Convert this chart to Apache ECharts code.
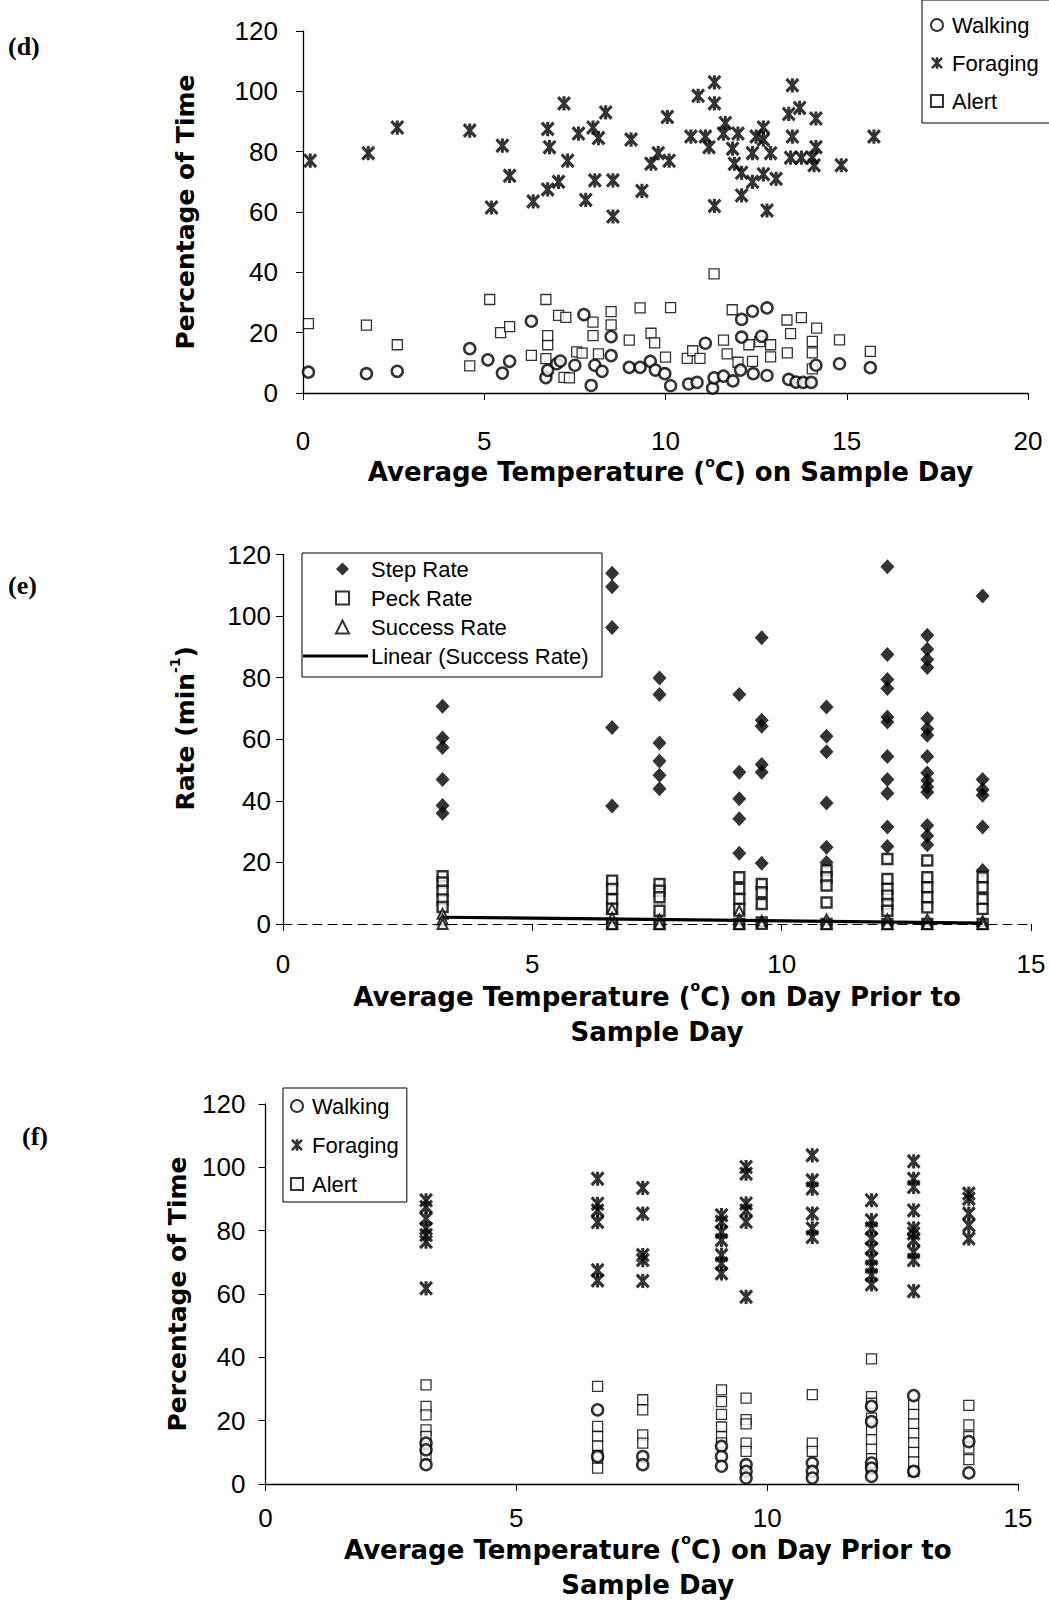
<!DOCTYPE html>
<html><head><meta charset="utf-8">
<script src="https://cdn.jsdelivr.net/npm/echarts@6/dist/echarts.min.js"></script>
<style>html,body{margin:0;padding:0;background:#fff}#c{width:1049px;height:1601px}</style>
</head><body><div id="c"></div>
<script>
// ---------- tick values ----------
const pctTicks = [0, 20, 40, 60, 80, 100, 120];
const rateTicks = [0, 20, 40, 60, 80, 100, 120];
const tempTicksD = [0, 5, 10, 15, 20];
const tempTicksEF = [0, 5, 10, 15];

// ---------- panel (d): temperature on sample day ----------
const dWalking = [[0.15,6.9],[1.75,6.4],[2.6,7.2],[4.6,14.7],[5.1,11],[5.5,6.6],[5.7,10.5],[6.3,23.8],[6.7,5.1],[6.75,7.5],[7.0,9.7],[7.1,10.6],[7.5,9.2],[7.75,26],[7.95,2.5],[8.05,9.2],[8.25,7.2],[8.5,18.7],[8.5,12.4],[9.0,8.5],[9.3,8.5],[9.58,10.5],[9.72,7.6],[9.98,6.4],[10.14,2.4],[10.64,3],[10.87,3.5],[11.1,16.5],[11.3,1.6],[11.34,5],[11.6,5.6],[11.86,4],[12.07,7.6],[12.1,24.4],[12.4,27.1],[12.8,28.2],[12.65,18.8],[12.1,18.5],[12.42,6.4],[12.8,5.8],[13.4,4.5],[13.6,3.6],[13.8,3.5],[14.02,3.5],[14.15,9.2],[14.8,9.7],[15.65,8.4]];
const dForaging = [[0.2,77],[1.8,79.5],[2.6,88],[4.6,87],[5.5,82],[5.2,61.5],[5.7,72],[6.35,63.5],[6.75,87.5],[6.8,81.5],[6.75,67.5],[7.05,70],[7.2,96],[7.3,77],[7.6,86],[7.8,64],[8.0,88],[8.15,84.5],[8.05,70.5],[8.35,93],[8.55,70.5],[8.55,58.5],[9.05,84],[9.35,67],[9.6,76],[9.8,79.5],[10.05,91.5],[10.1,77],[10.9,98.5],[11.35,103],[11.35,96],[10.7,85],[11.1,85],[11.2,81.5],[11.65,89.5],[11.6,86],[12.0,86],[11.85,81],[11.9,76],[12.1,73],[12.4,79.5],[12.5,85],[12.7,88],[12.7,84],[12.9,79.5],[12.7,72.5],[12.4,70],[13.05,71],[12.1,65.5],[11.35,62],[12.8,60.5],[13.5,102],[13.7,94.5],[13.4,92.5],[14.15,91],[13.5,85],[14.15,81.5],[13.45,78],[13.75,78],[14.05,78],[14.1,75.5],[14.85,75.5],[15.75,85]];
const dAlert = [[0.15,23],[1.75,22.5],[2.6,16],[4.6,9],[5.15,31],[5.45,20],[5.7,22],[6.3,12.5],[6.7,31],[6.7,11.4],[6.75,16],[6.75,19],[7.05,25.7],[7.25,25.1],[7.2,5.2],[7.35,5],[7.55,13.6],[7.7,13.2],[8.0,23.5],[8.0,19],[8.5,27],[8.5,22.6],[8.15,13],[9.0,17.5],[9.3,28.2],[9.6,19.8],[9.7,16.6],[10.0,11.9],[10.14,28.3],[11.34,39.5],[10.6,11.5],[10.75,14],[10.95,11.5],[11.6,17.5],[11.7,13],[11.84,27.6],[12.0,10.2],[12.3,16],[12.4,10.5],[12.6,17],[12.9,16],[12.9,12],[13.35,24.2],[13.75,25],[13.45,19.7],[14.17,21.5],[14.05,17.1],[14.05,13.3],[13.36,13.3],[14.05,8],[14.8,17.6],[15.65,13.8]];

// ---------- panel (e): rates vs temperature on prior day ----------
const eTemps = [3.2, 6.6, 7.55, 9.15, 9.6, 10.9, 12.12, 12.92, 14.03];
const eStep = [[70.7,60.4,57.3,46.9,38.5,36],[113.9,109.5,96.3,63.8,38.3],[79.9,74.5,58.8,52.9,48.3,43.9],[74.5,49.3,40.7,34.2,23],[93,66.2,64.2,51.8,49.3,19.7],[70.5,61,55.9,39.3,24.9,20],[116,87.5,79.4,76.5,67.2,65.6,54.4,46.9,42.5,31.5,25.2],[93.8,89.2,85.9,83.3,66.7,63.4,61.3,54.4,49,46.6,44.5,42.8,32,28.7,25.7],[106.5,46.9,43.6,41.8,31.5,17.4]];
const ePeck = [[15.5,13.5,10.8,8,5.5],[14.1,11.4,8,5,0],[13,10.8,8.7,4.3,0],[15.2,11.4,8.1,4.9,0],[13,10.3,6.5,0.5],[17.4,15.2,12.5,7,0],[21.1,14.6,11.4,9.2,6.5,4.3,0],[20.6,15.2,11.9,8.7,5.4,0],[15.2,11.9,8.1,4.9,0]];
const eSuccess = [[3.3,1.5,0],[4.9,2,0],[1.5,0],[4.3,1.5,0],[1,0],[1.5,0],[1.5,0],[1.5,0],[1,0]];
const eTrend = [[3.2,2.2],[14.03,0.3]];

// ---------- panel (f): time budget vs temperature on prior day ----------
const fTemps = [3.2, 6.62, 7.52, 9.09, 9.58, 10.9, 12.08, 12.92, 14.02];
const fWalking = [[12.9,10.8,6.1],[23.4,8.7],[8.7,6.1],[11.9,8.7,5.6],[6.1,4,1.9],[6.6,4,1.9],[24.5,19.7,6.6,5,2.4],[27.9,4],[13.4,3.5]];
const fForaging = [[89.6,87.5,83.8,80.7,78.6,76.5,61.8],[96.4,88.5,86.4,82.7,67.5,64.3],[93.5,85.4,72.3,70.7,64.1],[84.9,82.8,79.6,77,72.3,69.6,66.5],[100.1,98,88.6,86.4,82.8,59.1],[103.8,95.9,93.3,85.4,80.7,78],[89.6,83.3,80.7,77.5,74.4,71.2,68.6,66,63],[101.9,96.4,93.8,86.4,80.7,79.1,77,73.3,70.7,60.9],[91.7,90.1,85.4,81.7,77.5]];
const fAlert = [[31.3,24.5,21.8,17.1,15,11.3,9.2],[30.8,18.2,15,12,9,8.2,5],[26.6,23.4,15.5,12.9],[29.7,26,22,18,15,13],[27.1,20.3,19,12.9,10.3],[28.2,12.9,10.3],[39.5,27.6,25.5,20.8,17,14,11,8,5],[25,22,19,16,13,10,7,4],[24.8,18.7,15,11.3,7.7]];

// build [x,y] pairs from column data
function cols(temps, vals) {
  const out = [];
  temps.forEach((t, i) => vals[i].forEach(v => out.push([t, v])));
  return out;
}

// filled asterisk (X + vertical bar) symbol
function asterPath(t) {
  const d = t / (2 * Math.SQRT2), h = t / 2;
  return 'path://' +
    `M${d},${-d}L${10 + d},${10 - d}L${10 - d},${10 + d}L${-d},${d}Z` +
    `M${10 - d},${-d}L${10 + d},${d}L${d},${10 + d}L${-d},${10 - d}Z` +
    `M${5 - h},${-0.6}L${5 + h},${-0.6}L${5 + h},${10.6}L${5 - h},${10.6}Z`;
}
const ASTER = asterPath(2.6);
const FONT = 'Liberation Sans';
const TFONT = 'DejaVu Sans';

function richOf(size) {
  return {
    a: {fontFamily: TFONT, fontWeight: 'bold', fontSize: size, color: '#000', lineHeight: 35},
    s: {fontFamily: TFONT, fontWeight: 'bold', fontSize: 14, color: '#000', lineHeight: 18, verticalAlign: 'top'}
  };
}

function xAx(gi, ticks, margin, name, gap, padLeft, dashed) {
  return {
    gridIndex: gi, type: 'value', min: ticks[0], max: ticks[ticks.length - 1], interval: ticks[1] - ticks[0],
    axisLine: {show: true, onZero: false, lineStyle: {color: '#000', width: dashed ? 1 : 1.4, type: dashed ? [9, 6] : 'solid'}},
    axisTick: {show: true, inside: false, length: 7, lineStyle: {color: '#000', width: 1}},
    splitLine: {show: false},
    axisLabel: {fontFamily: FONT, fontSize: 26, color: '#000', margin: margin},
    name: name, nameLocation: 'middle', nameGap: gap,
    nameTextStyle: {rich: richOf(26), padding: [0, 0, 0, padLeft]}
  };
}
function yAx(gi, ticks, margin, name, gap, padLeft) {
  return {
    gridIndex: gi, type: 'value', min: ticks[0], max: ticks[ticks.length - 1], interval: ticks[1] - ticks[0],
    axisLine: {show: true, lineStyle: {color: '#000', width: 1.3}},
    axisTick: {show: true, inside: false, length: 7, lineStyle: {color: '#000', width: 1}},
    splitLine: {show: false},
    axisLabel: {fontFamily: FONT, fontSize: 26, color: '#000', margin: margin},
    name: name, nameLocation: 'middle', nameGap: gap,
    nameTextStyle: {rich: richOf(25), padding: [0, 0, 0, padLeft]}
  };
}

const openMark = (bw) => ({color: '#fff', borderColor: '#000', borderWidth: bw});
const solidMark = {color: '#000', borderWidth: 0};

const chart = echarts.init(document.getElementById('c'), null, {renderer: 'svg', width: 1049, height: 1601});

chart.setOption({
  animation: false,
  backgroundColor: '#fff',
  grid: [
    {left: 303, top: 31, width: 725, height: 362},
    {left: 283, top: 554.5, width: 748, height: 369.5},
    {left: 265.5, top: 1104, width: 752.5, height: 380}
  ],
  xAxis: [
    xAx(0, tempTicksD, 35, '{a|Average Temperature (}{s|o}{a|C) on Sample Day}', 61, 10, false),
    xAx(1, tempTicksEF, 27, '{a|Average Temperature (}{s|o}{a|C) on Day Prior to}\n{a|Sample Day}', 55, 0, true),
    xAx(2, tempTicksEF, 21, '{a|Average Temperature (}{s|o}{a|C) on Day Prior to}\n{a|Sample Day}', 48, 12, false)
  ],
  yAxis: [
    yAx(0, pctTicks, 25, '{a|Percentage of Time}', 100, 0),
    yAx(1, rateTicks, 12, '{a|Rate (min}{s|-1}{a|)}', 80, 22),
    yAx(2, pctTicks, 20, '{a|Percentage of Time}', 71, 0)
  ],
  legend: [
    {data: ['Walking', 'Foraging', 'Alert'], orient: 'vertical', left: 922, top: 0,
     padding: [14, 14, 11, 8], itemGap: 16, itemWidth: 12, itemHeight: 12,
     borderColor: '#000', borderWidth: 1, selectedMode: false,
     textStyle: {fontFamily: FONT, fontSize: 22, color: '#000', padding: [0, 0, 0, 4]}},
    {data: ['Step Rate', 'Peck Rate', 'Success Rate'], orient: 'vertical', left: 335, top: 558,
     padding: 0, itemGap: 7, itemWidth: 13, itemHeight: 13, selectedMode: false,
     textStyle: {fontFamily: FONT, fontSize: 22, color: '#000', padding: [0, 0, 0, 17]}},
    {data: [{name: 'Linear (Success Rate)', icon: 'path://M0,0L65,0L65,3.2L0,3.2Z'}], orient: 'vertical', left: 303, top: 645,
     padding: 0, itemWidth: 65, itemHeight: 14, selectedMode: false,
     textStyle: {fontFamily: FONT, fontSize: 22, color: '#000', padding: [0, 0, 0, -2]}},
    {data: ['Walking', 'Foraging', 'Alert'], orient: 'vertical', left: 283, top: 1088,
     padding: [7, 8, 7, 7], itemGap: 17, itemWidth: 12, itemHeight: 12,
     borderColor: '#000', borderWidth: 1, selectedMode: false,
     textStyle: {fontFamily: FONT, fontSize: 22, color: '#000', padding: [0, 0, 0, 4]}}
  ],
  graphic: [
    {type: 'rect', shape: {x: 302, y: 553, width: 300, height: 124}, style: {fill: 'none', stroke: '#000', lineWidth: 1}, z: 5},
    {type: 'text', x: 8, y: 46, style: {text: '(d)', font: 'bold 26px "Liberation Serif"', fill: '#000', verticalAlign: 'middle'}},
    {type: 'text', x: 8, y: 585, style: {text: '(e)', font: 'bold 26px "Liberation Serif"', fill: '#000', verticalAlign: 'middle'}},
    {type: 'text', x: 22, y: 1136, style: {text: '(f)', font: 'bold 26px "Liberation Serif"', fill: '#000', verticalAlign: 'middle'}}
  ],
  series: [
    // panel d
    {name: 'Alert', type: 'scatter', xAxisIndex: 0, yAxisIndex: 0, data: dAlert, symbol: 'rect', symbolSize: 10, itemStyle: openMark(1.3), z: 2},
    {name: 'Foraging', type: 'scatter', xAxisIndex: 0, yAxisIndex: 0, data: dForaging, symbol: ASTER, symbolSize: [14, 15], itemStyle: solidMark, z: 2},
    {name: 'Walking', type: 'scatter', xAxisIndex: 0, yAxisIndex: 0, data: dWalking, symbol: 'circle', symbolSize: 11, itemStyle: openMark(2.5), z: 3},
    // panel e
    {name: 'Step Rate', type: 'scatter', xAxisIndex: 1, yAxisIndex: 1, data: cols(eTemps, eStep), symbol: 'diamond', symbolSize: [14, 15], itemStyle: solidMark, z: 2},
    {name: 'Peck Rate', type: 'scatter', xAxisIndex: 1, yAxisIndex: 1, data: cols(eTemps, ePeck), symbol: 'rect', symbolSize: 10, itemStyle: openMark(2.4), z: 3},
    {name: 'Success Rate', type: 'scatter', xAxisIndex: 1, yAxisIndex: 1, data: cols(eTemps, eSuccess), symbol: 'triangle', symbolSize: 10, itemStyle: openMark(2), z: 4},
    {name: 'Linear (Success Rate)', type: 'line', xAxisIndex: 1, yAxisIndex: 1, data: eTrend, symbol: 'none', lineStyle: {color: '#000', width: 3.2}, itemStyle: {color: '#000'}, z: 5},
    // panel f
    {name: 'Alert', type: 'scatter', xAxisIndex: 2, yAxisIndex: 2, data: cols(fTemps, fAlert), symbol: 'rect', symbolSize: 10, itemStyle: openMark(1.3), z: 2},
    {name: 'Foraging', type: 'scatter', xAxisIndex: 2, yAxisIndex: 2, data: cols(fTemps, fForaging), symbol: ASTER, symbolSize: [14, 15], itemStyle: solidMark, z: 2},
    {name: 'Walking', type: 'scatter', xAxisIndex: 2, yAxisIndex: 2, data: cols(fTemps, fWalking), symbol: 'circle', symbolSize: 11, itemStyle: openMark(2.5), z: 3}
  ]
});
</script></body></html>
